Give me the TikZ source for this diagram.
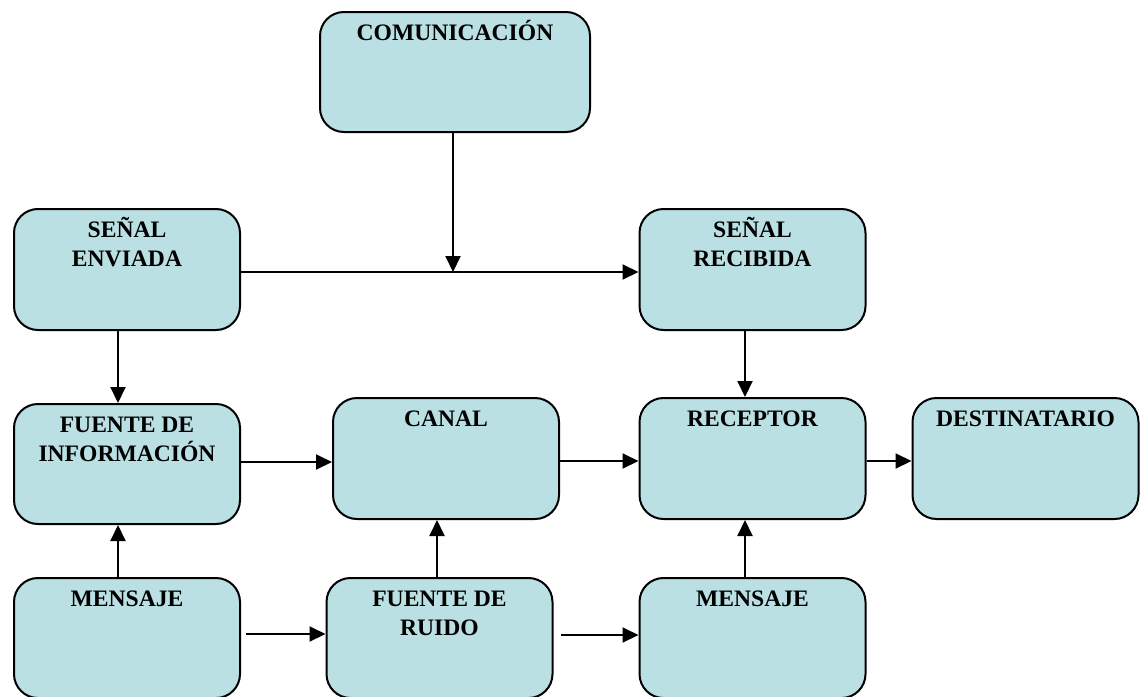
\documentclass[tikz,border=0pt]{standalone}
\usepackage{fontspec}
\setmainfont{Liberation Serif}
\usetikzlibrary{arrows.meta}
\definecolor{boxfill}{RGB}{186,224,228}
\tikzset{
  box/.style={draw=black, line width=2pt, rounded corners=24pt, fill=boxfill,
    minimum width=226pt, minimum height=121pt, inner sep=0pt},
  lab/.style={anchor=north, yshift=-8.7pt, align=center, inner sep=0pt,
    font=\bfseries\fontsize{23.6}{29}\selectfont},
  arr/.style={line width=2pt, -{Triangle[length=16pt,width=15pt]}}
}
\begin{document}
\begin{tikzpicture}[x=1pt,y=-1pt]
\useasboundingbox (0,0) rectangle (1143,696);
\node[box, minimum width=270pt, minimum height=120pt, label={[lab]north:{\strut COMUNICACIÓN}}] (com) at (455,72) {};
\node[box, label={[lab]north:{\strut SEÑAL\\ENVIADA}}] (se) at (127,269.5) {};
\node[box, label={[lab]north:{\strut SEÑAL\\RECIBIDA}}] (sr) at (752.5,269.5) {};
\node[box, minimum height=120pt, label={[lab]north:{\strut FUENTE DE\\INFORMACIÓN}}] (fi) at (127,464) {};
\node[box, label={[lab]north:{\strut CANAL}}] (canal) at (446,458.5) {};
\node[box, label={[lab]north:{\strut RECEPTOR}}] (rec) at (752.5,458.5) {};
\node[box, label={[lab]north:{\strut DESTINATARIO}}] (dest) at (1025.5,458.5) {};
\node[box, minimum height=120pt, label={[lab]north:{\strut MENSAJE}}] (m1) at (127,638) {};
\node[box, minimum height=120pt, label={[lab]north:{\strut FUENTE DE\\RUIDO}}] (ruido) at (439.5,638) {};
\node[box, minimum height=120pt, label={[lab]north:{\strut MENSAJE}}] (m2) at (752.5,638) {};
\coordinate (j) at (453,272);
\coordinate (xl) at (118,0);
\coordinate (xr) at (745,0);
\coordinate (xc) at (437,0);
\coordinate (yb) at (0,634);
\coordinate (yc) at (0,635);
\coordinate (ya) at (0,462);
\coordinate (yd) at (0,461);
\draw[arr] (com.south -| j) -- (j);
\draw[arr] (se.east |- j) -- (sr.west |- j);
\draw[arr] (se.south -| xl) -- (fi.north -| xl);
\draw[arr] (fi.east |- ya) -- (canal.west |- ya);
\draw[arr] (canal.east |- yd) -- (rec.west |- yd);
\draw[arr] (rec.east |- yd) -- (dest.west |- yd);
\draw[arr] (sr.south -| xr) -- (rec.north -| xr);
\draw[arr] (m1.north -| xl) -- (fi.south -| xl);
\draw[arr, shorten <=5pt] (m1.east |- yb) -- (ruido.west |- yb);
\draw[arr] (ruido.north -| xc) -- (canal.south -| xc);
\draw[arr, shorten <=7pt] (ruido.east |- yc) -- (m2.west |- yc);
\draw[arr] (m2.north -| xr) -- (rec.south -| xr);
\end{tikzpicture}
\end{document}
